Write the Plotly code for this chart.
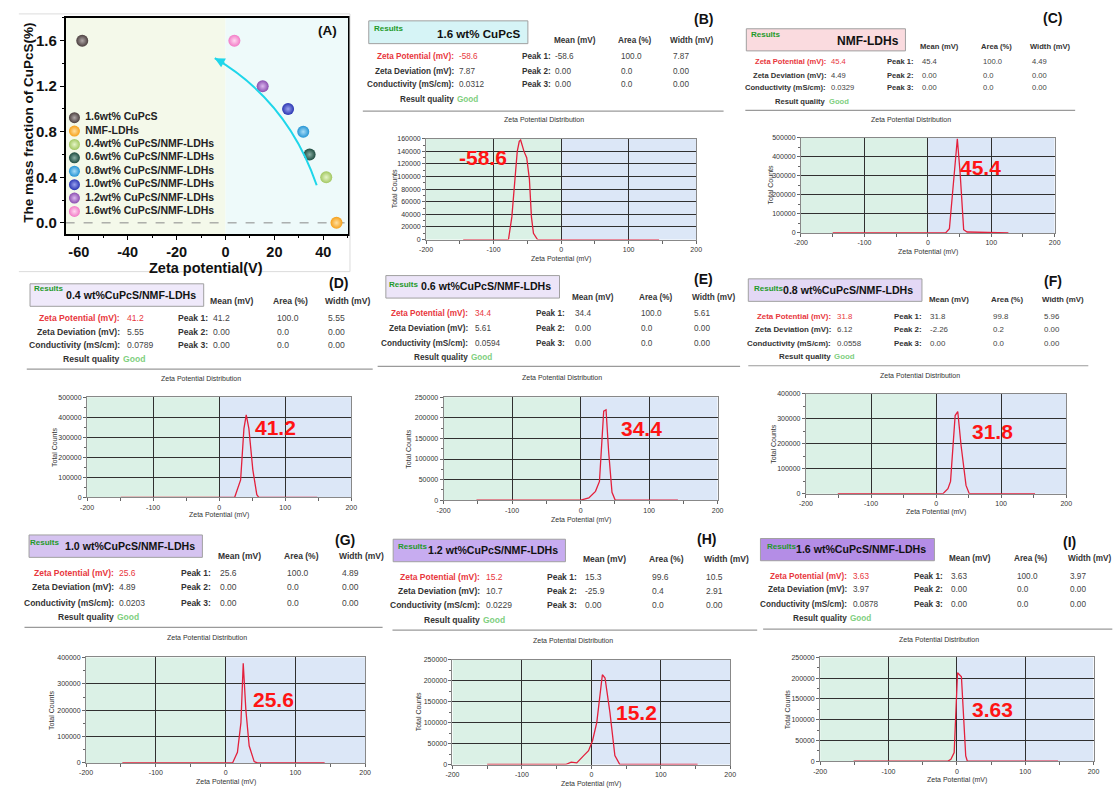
import plotly.graph_objects as go

W, H = 1120, 791
FONT = "Liberation Sans, Arial, Helvetica, sans-serif"

# ---------------- Panel A data ----------------
samples = ["1.6wt% CuPcS", "NMF-LDHs", "0.4wt% CuPcS/NMF-LDHs", "0.6wt% CuPcS/NMF-LDHs",
           "0.8wt% CuPcS/NMF-LDHs", "1.0wt% CuPcS/NMF-LDHs", "1.2wt% CuPcS/NMF-LDHs",
           "1.6wt% CuPcS/NMF-LDHs"]
zeta_mV = [-58.6, 45.4, 41.2, 34.4, 31.8, 25.6, 15.2, 3.63]
mass_frac = [1.6, 0.0, 0.4, 0.6, 0.8, 1.0, 1.2, 1.6]
point_colors = ["#4b3f3f", "#f6a01a", "#a2c761", "#1d4b3f", "#2494d4", "#2a35b2", "#8a4daf", "#f27ac6"]
point_highlights = ["#b0a8a8", "#ffe0a0", "#e6f5c8", "#8ab0a5", "#a8dcf8", "#9aa2ee", "#dcb8ef", "#ffd8f0"]
a_xticks = [-60, -40, -20, 0, 20, 40]
a_yticks = [0.0, 0.4, 0.8, 1.2, 1.6]

# ---------------- Panels B-I data ----------------
panel_ids = ["B", "C", "D", "E", "F", "G", "H", "I"]
panel_titles = ["1.6 wt% CuPcS", "NMF-LDHs", "0.4 wt%CuPcS/NMF-LDHs", "0.6 wt%CuPcS/NMF-LDHs",
                "0.8 wt%CuPcS/NMF-LDHs", "1.0 wt%CuPcS/NMF-LDHs", "1.2 wt%CuPcS/NMF-LDHs",
                "1.6 wt%CuPcS/NMF-LDHs"]
zeta_potential = ["-58.6", "45.4", "41.2", "34.4", "31.8", "25.6", "15.2", "3.63"]
zeta_deviation = ["7.87", "4.49", "5.55", "5.61", "6.12", "4.89", "10.7", "3.97"]
conductivity = ["0.0312", "0.0329", "0.0789", "0.0594", "0.0558", "0.0203", "0.0229", "0.0878"]
peak1 = [["-58.6", "100.0", "7.87"], ["45.4", "100.0", "4.49"], ["41.2", "100.0", "5.55"],
         ["34.4", "100.0", "5.61"], ["31.8", "99.8", "5.96"], ["25.6", "100.0", "4.89"],
         ["15.3", "99.6", "10.5"], ["3.63", "100.0", "3.97"]]
peak2 = [["0.00", "0.0", "0.00"], ["0.00", "0.0", "0.00"], ["0.00", "0.0", "0.00"],
         ["0.00", "0.0", "0.00"], ["-2.26", "0.2", "0.00"], ["0.00", "0.0", "0.00"],
         ["-25.9", "0.4", "2.91"], ["0.00", "0.0", "0.00"]]
peak3 = [["0.00", "0.0", "0.00"]] * 8

dist_x = {
    "B": [-145, -78, -73, -69, -65, -62, -60, -55, -51, -47, -44, -41, -35, 145],
    "C": [-150, 28, 34, 38, 42, 46.5, 51, 56.5, 62, 127],
    "D": [-149, 23.5, 32.5, 37.5, 41, 45, 51, 57, 60, 148.5],
    "E": [-152, -1, 12, 21.7, 27.5, 33.7, 37.1, 40.9, 45.8, 50.6, 142],
    "F": [-151, 10.6, 18.2, 22.2, 29.3, 33.3, 38.4, 46, 51, 152],
    "G": [-148, 10, 17, 22, 25.3, 29, 33.8, 41, 45.6, 142],
    "H": [-150, -37, -29, -21, -11, -4, 1.7, 7.8, 15.9, 19.7, 26.8, 33.9, 41, 153],
    "I": [-151, -13.5, -8.7, -3.9, 1, 3.4, 6.7, 13, 15.4, 148],
}
dist_y = {
    "B": [0, 0, 36000, 93000, 140000, 156000, 158000, 140000, 130000, 96000, 36000, 10000, 0, 0],
    "C": [0, 0, 22000, 180000, 350000, 495000, 310000, 17000, 5000, 0],
    "D": [0, 0, 87000, 343000, 412000, 343000, 137000, 13000, 0, 0],
    "E": [0, 0, 5600, 21600, 45700, 216000, 219500, 117800, 19200, 0, 0],
    "F": [0, 0, 20000, 49000, 313000, 329000, 193000, 33000, 0, 0],
    "G": [0, 0, 40000, 153000, 378000, 203000, 65000, 5000, 0, 0],
    "H": [0, 0, 5500, 3900, 21300, 33100, 56800, 100200, 214500, 206600, 123800, 21300, 0, 0],
    "I": [0, 0, 4800, 20800, 213000, 209000, 203500, 12800, 0, 0],
}
y_max = [160000, 500000, 500000, 250000, 400000, 400000, 250000, 250000]
y_step = [20000, 100000, 100000, 50000, 100000, 100000, 50000, 50000]
dist_xticks = [-200, -100, 0, 100, 200]

# ---------------- pixel layout of panels B-I ----------------
LAY = [
    dict(box=(366, 17, 527, 40), col="#d6f4f6", res=(370, 25), tit=(477, 29.3), ts=11.6, let=(705, 15),
         hy=36.7, hx=(575, 635, 693), rows=(53.3, 68.3, 81.7, 96.7), lr=453, vl=456, pr=551,
         cols=(553, 620, 673), sep=(108, 360, 725), dt=(543, 116.7), plot=(424, 697.3, 136, 237.7),
         num=(482, 155), tc=391.7, xt=257.7, fs=8.2),
    dict(box=(748, 25, 909, 47.3), col="#fadbdf", res=(752, 31), tit=(871, 37.3), ts=12, let=(1058, 14),
         hy=42.7, hx=(943, 1000.7, 1055), rows=(58.3, 71.7, 84.3, 98.3), lr=829.3, vl=832.7, pr=918.3,
         cols=(925, 986.7, 1036), sep=(107.3, 747, 1080.7), dt=(915, 116.7), plot=(803.3, 1060, 135, 231),
         num=(985, 165), tc=772, xt=250, fs=7.6),
    dict(box=(23.3, 282.3, 199, 305), col="#efe9fa", res=(26.7, 286.7), tit=(125, 293.3), ts=10.6, let=(335, 281),
         hy=300, hx=(227.7, 286.7, 344.3), rows=(316.7, 330.7, 344.3, 358.3), lr=115.7, vl=120, pr=204,
         cols=(207.7, 272.3, 323.3), sep=(368.3, 20, 370), dt=(196.7, 378.3), plot=(81, 348.3, 396.7, 497.7),
         num=(271.7, 427.3), tc=48.3, xt=516, fs=8.6),
    dict(box=(383.3, 274, 559, 296.7), col="#ece5f8", res=(385.7, 283.3), tit=(485, 285), ts=10.6, let=(705, 277.7),
         hy=295.7, hx=(593.3, 655.7, 715), rows=(312.7, 327.3, 342.3, 356.7), lr=467.7, vl=472.7, pr=566,
         cols=(573.7, 640, 694), sep=(365.7, 375, 741.7), dt=(561.7, 376.7), plot=(441.7, 719, 396.7, 500.7),
         num=(641.7, 428.3), tc=406.7, xt=521, fs=8.2),
    dict(box=(750, 277.3, 925.7, 300), col="#e3d8f5", res=(755, 286.7), tit=(851.3, 289), ts=10.6, let=(1058.3, 279.3),
         hy=298.3, hx=(953.3, 1011.7, 1068.3), rows=(315, 328.3, 342.7, 356), lr=834.3, vl=839, pr=926.7,
         cols=(933.3, 996.7, 1048.3), sep=(365, 750, 1094), dt=(923.3, 375), plot=(808.3, 1071.7, 393.3, 494),
         num=(996.7, 431.7), tc=776, xt=512.3, fs=7.9),
    dict(box=(22.3, 535.7, 197.7, 558.3), col="#d5c3f0", res=(22.7, 543.3), tit=(124.3, 547.3), ts=10.6, let=(342.3, 541),
         hy=556.7, hx=(235.7, 298.3, 358.3), rows=(574.3, 588.3, 604, 618.3), lr=109, vl=112.7, pr=207.3,
         cols=(214.3, 282.7, 337.7), sep=(629, 17.7, 380), dt=(202.7, 639.3), plot=(80, 362.3, 659.3, 765.7),
         num=(269.3, 701.7), tc=44.3, xt=785, fs=8.5),
    dict(box=(390.7, 540, 565, 562.7), col="#c7acf0", res=(395, 547.7), tit=(492.2, 551), ts=10.6, let=(707.7, 540),
         hy=560, hx=(605, 667.3, 727.7), rows=(577.7, 592.3, 606.7, 621.7), lr=480, vl=483.3, pr=577.7,
         cols=(584, 651.7, 706), sep=(631.7, 390, 759), dt=(572.7, 642.3), plot=(450.7, 731.7, 661.7, 767.3),
         num=(636.7, 715), tc=416, xt=786.5, fs=8.5),
    dict(box=(762.3, 539.3, 938.3, 561.7), col="#b48de6", res=(767.7, 547.7), tit=(864.5, 550), ts=10.6, let=(1075, 543.3),
         hy=559.3, hx=(974.3, 1036, 1095), rows=(577.3, 591, 606, 620), lr=850.7, vl=855, pr=947.7,
         cols=(954.3, 1020.7, 1074), sep=(630.7, 765, 1118.3), dt=(943.3, 640.7), plot=(822.7, 1099.3, 659.3, 764),
         num=(996.7, 712.3), tc=790, xt=783.3, fs=8.2),
]


def PX(px):
    return px / W


def PY(py):
    return 1 - py / H


annotations = []
shapes = []


def ann(text, px, py, size, color="#333333", xanchor="center", yanchor="middle", angle=0, bold=False):
    annotations.append(dict(
        text=("<b>%s</b>" % text) if bold else text, x=PX(px), y=PY(py), xref="paper", yref="paper",
        showarrow=False, xanchor=xanchor, yanchor=yanchor, textangle=angle, borderpad=0,
        font=dict(family=FONT, size=size, color=color)))


fig = go.Figure()

# ---------------- Panel A ----------------
AX = (59.3, 345, 14, 232.3)
A_XR = [-65.4, 50.1]
A_YR = [-0.1, 1.8]
shapes.append(dict(type="rect", xref="x", yref="y domain", x0=A_XR[0], x1=0, y0=0, y1=1,
                   fillcolor="#f4f9ea", line=dict(width=0), layer="below"))
shapes.append(dict(type="rect", xref="x", yref="y domain", x0=0, x1=A_XR[1], y0=0, y1=1,
                   fillcolor="#eefafa", line=dict(width=0), layer="below"))
shapes.append(dict(type="line", xref="x", yref="y", x0=A_XR[0], x1=A_XR[1], y0=0, y1=0,
                   line=dict(color="#8a8a8a", width=1, dash="dash"), layer="below"))
# trend arrow
shapes.append(dict(type="path", xref="x", yref="y", path="M 37.3,0.33 Q 25.5,1.07 -4.4,1.446",
                   line=dict(color="#1fd6ea", width=2)))
annotations.append(dict(x=-4.4, y=1.446, xref="x", yref="y", ax=11, ay=6, text="", showarrow=True,
                        arrowhead=2, arrowsize=1, arrowwidth=2, arrowcolor="#1fd6ea"))
# light frame of panel A image
for (x0, y0, x1, y1) in [(12, 10, 347, 10), (347, 10, 347, 270), (12, 270, 347, 270)]:
    shapes.append(dict(type="line", xref="paper", yref="paper", x0=PX(x0), x1=PX(x1), y0=PY(y0), y1=PY(y1),
                       line=dict(color="#dcdcdc", width=1)))

fig.add_trace(go.Scatter(
    x=zeta_mV, y=mass_frac, mode="markers", showlegend=False, xaxis="x", yaxis="y",
    marker=dict(size=12, color=point_colors, line=dict(width=0),
                gradient=dict(type="radial", color=point_highlights))))

# legend drawn through an overlay axis
fig.add_trace(go.Scatter(
    x=[0.035] * len(samples), y=list(range(len(samples))), mode="markers+text",
    text=["\u00a0<b>" + s + "</b>" for s in samples], textposition="middle right",
    textfont=dict(family=FONT, size=10.5, color="#222222"), showlegend=False,
    xaxis="x10", yaxis="y10",
    marker=dict(size=11, color=point_colors, line=dict(width=0),
                gradient=dict(type="radial", color=point_highlights))))

layout_axes = {}
layout_axes["xaxis"] = dict(
    domain=[PX(AX[0]), PX(AX[1])], range=A_XR, anchor="y", tickmode="array", tickvals=a_xticks,
    ticktext=["<b>%d</b>" % v for v in a_xticks], tickfont=dict(family=FONT, size=14.5, color="#111"),
    ticks="outside", ticklen=4, tickwidth=1.3, tickcolor="black", showline=True, linecolor="black",
    linewidth=1.5, mirror=True, showgrid=False, zeroline=False,
    minor=dict(tickmode="linear", tick0=0, dtick=10, ticks="outside", ticklen=2, tickcolor="black", showgrid=False))
layout_axes["yaxis"] = dict(
    domain=[PY(AX[3]), PY(AX[2])], range=A_YR, anchor="x", tickmode="array", tickvals=a_yticks,
    ticktext=["<b>%.1f</b>" % v for v in a_yticks], tickfont=dict(family=FONT, size=15, color="#111"),
    ticks="outside", ticklen=4, tickwidth=1.3, tickcolor="black", showline=True, linecolor="black",
    linewidth=1.5, mirror=True, showgrid=False, zeroline=False,
    minor=dict(tickmode="linear", tick0=0, dtick=0.2, ticks="outside", ticklen=2, tickcolor="black", showgrid=False))
layout_axes["xaxis10"] = dict(domain=[PX(62), PX(240)], range=[0, 1], visible=False, anchor="y10")
layout_axes["yaxis10"] = dict(domain=[PY(216), PY(108)], range=[len(samples) - 0.5, -0.5], visible=False, anchor="x10")

ann("Zeta potential(V)", 201, 266, 14.5, "#111", bold=True)
ann("The mass fraction of CuPcS(%)", 22, 120, 13.5, "#111", angle=-90, bold=True)
ann("(A)", 324, 27, 13.5, "#111", bold=True)

# ---------------- Panels B-I ----------------
for i, pid in enumerate(panel_ids):
    L = LAY[i]
    n = i + 2
    xa, ya = "x%d" % n, "y%d" % n
    fs = L["fs"]
    # title box
    bx0, by0, bx1, by1 = L["box"]
    shapes.append(dict(type="rect", xref="paper", yref="paper", x0=PX(bx0), x1=PX(bx1), y0=PY(by1), y1=PY(by0),
                       fillcolor=L["col"], line=dict(color="#a0a0a0", width=1)))
    ann("Results", L["res"][0], L["res"][1], 8, "#1f9a2a", xanchor="left", bold=True)
    ann(panel_titles[i], L["tit"][0], L["tit"][1], L["ts"], "#111111", bold=True)
    ann("(%s)" % pid, L["let"][0], L["let"][1], 14, "#111111", bold=True)
    # header
    for hx, htxt in zip(L["hx"], ["Mean (mV)", "Area (%)", "Width (mV)"]):
        ann(htxt, hx, L["hy"], fs, "#333333", bold=True)
    # rows
    r1, r2, r3, rq = L["rows"]
    ann("Zeta Potential (mV):", L["lr"], r1, fs, "#e8373d", xanchor="right", bold=True)
    ann(zeta_potential[i], L["vl"], r1, fs, "#e8373d", xanchor="left")
    ann("Zeta Deviation (mV):", L["lr"], r2, fs, "#333333", xanchor="right", bold=True)
    ann(zeta_deviation[i], L["vl"], r2, fs, "#444444", xanchor="left")
    ann("Conductivity (mS/cm):", L["lr"], r3, fs, "#333333", xanchor="right", bold=True)
    ann(conductivity[i], L["vl"], r3, fs, "#444444", xanchor="left")
    ann("Result quality", L["lr"], rq, fs, "#333333", xanchor="right", bold=True)
    ann("Good", L["lr"] + 1, rq, fs, "#80cf80", xanchor="left", bold=True)
    for ry, plab, pvals in zip((r1, r2, r3), ("Peak 1:", "Peak 2:", "Peak 3:"), (peak1[i], peak2[i], peak3[i])):
        ann(plab, L["pr"], ry, fs, "#333333", xanchor="right", bold=True)
        for cx, v in zip(L["cols"], pvals):
            ann(v, cx, ry, fs, "#444444", xanchor="left")
    # separator
    sy, sx0, sx1 = L["sep"]
    shapes.append(dict(type="line", xref="paper", yref="paper", x0=PX(sx0), x1=PX(sx1), y0=PY(sy), y1=PY(sy),
                       line=dict(color="#9a9a9a", width=1.2)))
    ann("Zeta Potential Distribution", L["dt"][0], L["dt"][1], 7, "#333333")
    # chart
    px0, px1, py0, py1 = L["plot"]
    shapes.append(dict(type="rect", xref=xa, yref=ya + " domain", x0=-200, x1=0, y0=0, y1=1,
                       fillcolor="#dbf1e6", line=dict(width=0), layer="below"))
    shapes.append(dict(type="rect", xref=xa, yref=ya + " domain", x0=0, x1=200, y0=0, y1=1,
                       fillcolor="#dce7f7", line=dict(width=0), layer="below"))
    fig.add_trace(go.Scatter(x=dist_x[pid], y=dist_y[pid], mode="lines", showlegend=False,
                             xaxis=xa, yaxis=ya, line=dict(color="#e3203c", width=1.3)))
    layout_axes["xaxis%d" % n] = dict(
        domain=[PX(px0), PX(px1)], range=[-200, 200], anchor=ya, tickmode="array", tickvals=dist_xticks,
        ticktext=[str(v) for v in dist_xticks], tickfont=dict(family=FONT, size=7, color="#333"),
        ticks="outside", ticklen=3, tickcolor="#666", showgrid=True, gridcolor="#303030", gridwidth=1,
        showline=True, linecolor="#888", linewidth=1, mirror=True, zeroline=False,
        minor=dict(tickmode="linear", tick0=0, dtick=50, ticks="outside", ticklen=3, tickcolor="#666", showgrid=False))
    layout_axes["yaxis%d" % n] = dict(
        domain=[PY(py1), PY(py0)], range=[0, y_max[i]], anchor=xa, tickmode="linear", tick0=0, dtick=y_step[i],
        tickformat="d", tickfont=dict(family=FONT, size=7, color="#333"),
        ticks="outside", ticklen=3, tickcolor="#666", showgrid=True, gridcolor="#303030", gridwidth=1,
        showline=True, linecolor="#888", linewidth=1, mirror=True, zeroline=False,
        minor=dict(tickmode="linear", tick0=0, dtick=y_step[i] / 2, ticks="outside", ticklen=2,
                   tickcolor="#666", showgrid=False))
    ann("Total Counts", L["tc"], (py0 + py1) / 2, 7, "#333333", angle=-90)
    ann("Zeta Potential (mV)", (px0 + px1) / 2, L["xt"], 7, "#333333")
    ann(zeta_potential[i], L["num"][0], L["num"][1], 21, "#ff1414", bold=True)

fig.update_layout(
    width=W, height=H, autosize=False, margin=dict(l=0, r=0, t=0, b=0),
    paper_bgcolor="white", plot_bgcolor="rgba(0,0,0,0)", showlegend=False,
    font=dict(family=FONT), annotations=annotations, shapes=shapes, **layout_axes)

fig.write_html("out.html")
